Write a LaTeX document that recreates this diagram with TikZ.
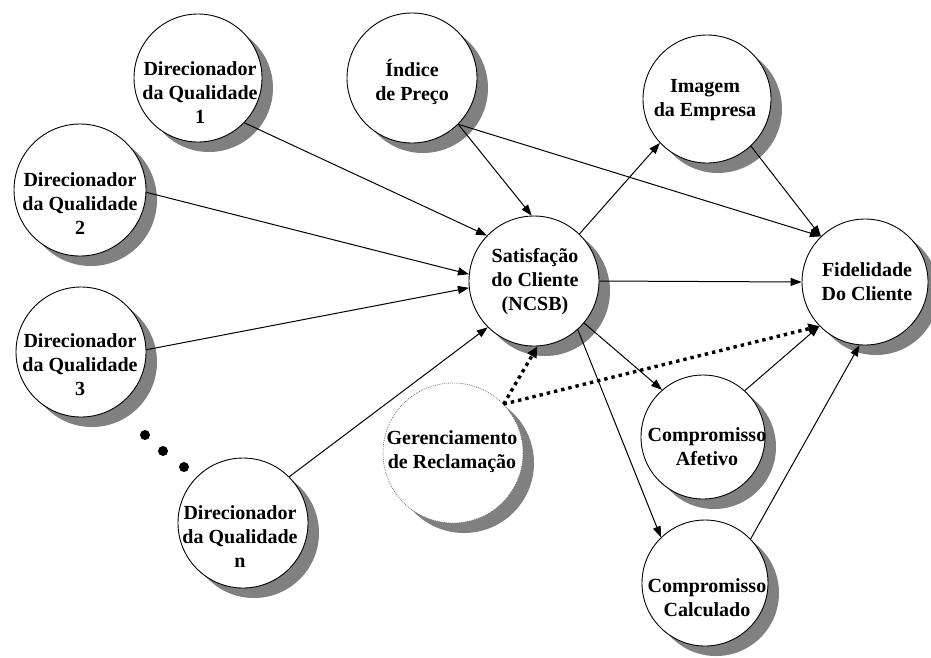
\documentclass[tikz,border=0pt]{standalone}
\usepackage{fontspec}
\setmainfont{Liberation Serif}
\usetikzlibrary{arrows.meta,shadows}
\begin{document}
\begin{tikzpicture}[x=1pt,y=-1pt,
  bubble/.style={circle,draw=black,line width=0.9pt,fill=white,inner sep=0pt,
    minimum size=#1,
    drop shadow={shadow xshift=11pt,shadow yshift=-10pt,fill=black!50,opacity=1}},
  softbubble/.style={bubble=#1,draw=black!55,line width=0.8pt,
    dash pattern=on 0.8pt off 1.1pt},
  txt/.style={align=center,inner sep=0pt,
    font=\fontsize{20pt}{24pt}\selectfont\bfseries},
  arr/.style={line width=1pt,-{Triangle[length=11pt,width=8pt]}},
  dotarr/.style={line width=3.4pt,dash pattern=on 3.4pt off 4pt,
    -{Triangle[length=11pt,width=10pt]}},
  ellip/.style={circle,fill=black,inner sep=0pt,minimum size=10pt}
]
\useasboundingbox (0,0) rectangle (931,657);

% circles
\node[bubble=128pt] (dq1) at (198,78) {};
\node[bubble=132pt] (dq2) at (80,190) {};
\node[bubble=130pt] (dq3) at (81,352) {};
\node[bubble=130pt] (dqn) at (243,523) {};
\node[bubble=130pt] (ind) at (412,78) {};
\node[bubble=128pt] (img) at (707,99) {};
\node[bubble=130pt] (sat) at (534,281) {};
\node[bubble=126pt] (fid) at (865,282) {};
\node[softbubble=140pt] (ger) at (453,453) {};
\node[bubble=124pt] (afe) at (703,437) {};
\node[bubble=126pt] (cal) at (705,583) {};

% labels
\node[txt] (dq1t) at (200,93) {Direcionador\\da Qualidade\\1};
\node[txt] (dq2t) at (80,204) {Direcionador\\da Qualidade\\2};
\node[txt] (dq3t) at (80,365) {Direcionador\\da Qualidade\\3};
\node[txt] (dqnt) at (240,537) {Direcionador\\da Qualidade\\n};
\node[txt] (indt) at (412,82) {Índice\\de Preço};
\node[txt] (imgt) at (705,100) {Imagem\\da Empresa};
\node[txt] (satt) at (535,282) {Satisfação\\do Cliente\\(NCSB)};
\node[txt] (fidt) at (867,282) {Fidelidade\\Do Cliente};
\node[txt] (gert) at (452,452) {Gerenciamento\\de Reclamação};
\node[txt] (afet) at (707,447) {Compromisso\\Afetivo};
\node[txt] (calt) at (707,598) {Compromisso\\Calculado};

% ellipsis between the quality drivers
\node[ellip] (e1) at (145,435) {};
\node[ellip] (e2) at (163,451) {};
\node[ellip] (e3) at (184,467) {};

% connectors
\draw[arr] (dq1.-44) -- (sat.136);
\draw[arr] (dq2.-2) -- (sat.174);
\draw[arr] (dq3.2) -- (sat.186);
\draw[arr] (dqn.45) -- (sat.225);
\draw[arr] (ind.-45) -- (sat.92);
\draw[arr] (ind.-45) -- (fid.134);
\draw[arr] (img.-47) -- (fid.134);
\draw[arr] (sat.46) -- (img.223);
\draw[arr] (sat.0) -- (fid.180);
\draw[arr] (sat.-40) -- (afe.131);
\draw[arr] (sat.-48) -- (cal.134);
\draw[arr] (afe.48) -- (fid.224);
\draw[arr] (cal.44) -- (fid.265);
\draw[dotarr] (ger.44) -- (sat.-87);
\draw[dotarr] (ger.44) -- (fid.224);
\end{tikzpicture}
\end{document}
